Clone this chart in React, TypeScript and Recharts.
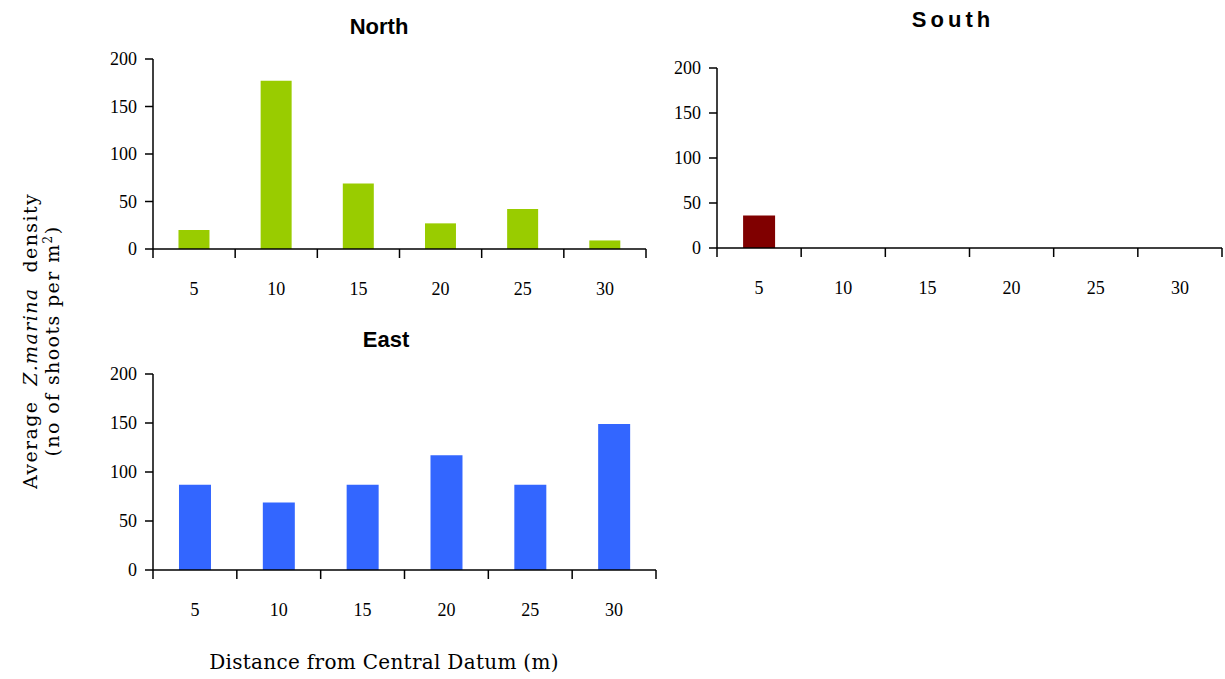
import React from 'react';
import { BarChart, Bar, XAxis, YAxis } from 'recharts';

const distances = ['5', '10', '15', '20', '25', '30'];
const northDensity = [20, 177, 69, 27, 42, 9];
const southDensity = [36, 0, 0, 0, 0, 0];
const eastDensity = [87, 69, 87, 117, 87, 149];
const densityTicks = [0, 50, 100, 150, 200];

const tickFont = '"Liberation Serif", "Times New Roman", serif';
const labelFont = '"DejaVu Serif", serif';
const titleFont = '"Liberation Sans", Arial, sans-serif';

interface PanelProps {
  values: number[];
  color: string;
  left: number;
  top: number;
  width: number;
  height: number;
  margin: { top: number; right: number; bottom: number; left: number };
}

const DistanceTick = (props: any) => {
  const { x, y, payload, index, halfBand } = props;
  const half = payload && payload.offset ? payload.offset : halfBand;
  return (
    <g>
      {index === 0 && <line x1={x - half} y1={y} x2={x - half} y2={y + 9} stroke="#000" strokeWidth={1.5} />}
      <line x1={x + half} y1={y} x2={x + half} y2={y + 9} stroke="#000" strokeWidth={1.5} />
      <text x={x} y={y + 40} textAnchor="middle" dominantBaseline="central" fontFamily={tickFont} fontSize={18} fill="#000">
        {payload.value}
      </text>
    </g>
  );
};

const Panel: React.FC<PanelProps> = ({ values, color, left, top, width, height, margin }) => {
  const data = distances.map((d, i) => ({ distance: d, density: values[i] }));
  const yAxisWidth = 60;
  const plotWidth = width - margin.left - margin.right - yAxisWidth;
  const halfBand = plotWidth / distances.length / 2;
  return (
    <div style={{ position: 'absolute', left, top }}>
      <BarChart width={width} height={height} data={data} margin={margin} barCategoryGap="31%">
        <XAxis
          dataKey="distance"
          height={60}
          tickLine={false}
          tickSize={0}
          tickMargin={0}
          interval={0}
          axisLine={{ stroke: '#000', strokeWidth: 1.5 }}
          tick={<DistanceTick halfBand={halfBand} />}
        />
        <YAxis
          width={yAxisWidth}
          domain={[0, 200]}
          ticks={densityTicks}
          interval={0}
          tickSize={8}
          tickMargin={8}
          axisLine={{ stroke: '#000', strokeWidth: 1.5 }}
          tickLine={{ stroke: '#000', strokeWidth: 1.5 }}
          tick={{ fill: '#000', fontSize: 18, fontFamily: tickFont }}
        />
        <Bar dataKey="density" fill={color} isAnimationActive={false} />
      </BarChart>
    </div>
  );
};

const Title: React.FC<{ text: string; x: number; y: number; spacing?: number }> = ({ text, x, y, spacing = 0 }) => (
  <div
    style={{
      position: 'absolute',
      left: x,
      top: y,
      transform: 'translate(-50%, -50%)',
      fontFamily: titleFont,
      fontWeight: 'bold',
      fontSize: 22,
      letterSpacing: spacing,
      whiteSpace: 'nowrap',
    }}
  >
    {text}
  </div>
);

export default function App() {
  return (
    <div style={{ position: 'absolute', left: 0, top: 0, width: 1225, height: 679, background: '#fff', overflow: 'hidden' }}>
      <Panel
        values={northDensity}
        color="#99CC00"
        left={0}
        top={0}
        width={660}
        height={320}
        margin={{ top: 59, right: 14, bottom: 11, left: 93 }}
      />
      <Panel
        values={southDensity}
        color="#800000"
        left={640}
        top={0}
        width={585}
        height={320}
        margin={{ top: 68, right: 3, bottom: 12, left: 17 }}
      />
      <Panel
        values={eastDensity}
        color="#3366FF"
        left={0}
        top={320}
        width={680}
        height={320}
        margin={{ top: 54, right: 24, bottom: 10, left: 93 }}
      />
      <Title text="North" x={379} y={27} />
      <Title text="South" x={953} y={20} spacing={4} />
      <Title text="East" x={386} y={340} />
      <div
        style={{
          position: 'absolute',
          left: 41,
          top: 341,
          transform: 'translate(-50%, -50%) rotate(-90deg)',
          fontFamily: labelFont,
          fontSize: 19,
          letterSpacing: 1.4,
          lineHeight: '22px',
          textAlign: 'center',
          whiteSpace: 'nowrap',
        }}
      >
        <div>
          Average&nbsp; <i>Z.marina</i>&nbsp; density
        </div>
        <div>
          (no of shoots per m<sup style={{ fontSize: 12, lineHeight: 0 }}>2</sup>)
        </div>
      </div>
      <div
        style={{
          position: 'absolute',
          left: 384,
          top: 662,
          transform: 'translate(-50%, -50%)',
          fontFamily: labelFont,
          fontSize: 20,
          letterSpacing: 0.3,
          whiteSpace: 'nowrap',
        }}
      >
        Distance from Central Datum (m)
      </div>
    </div>
  );
}
